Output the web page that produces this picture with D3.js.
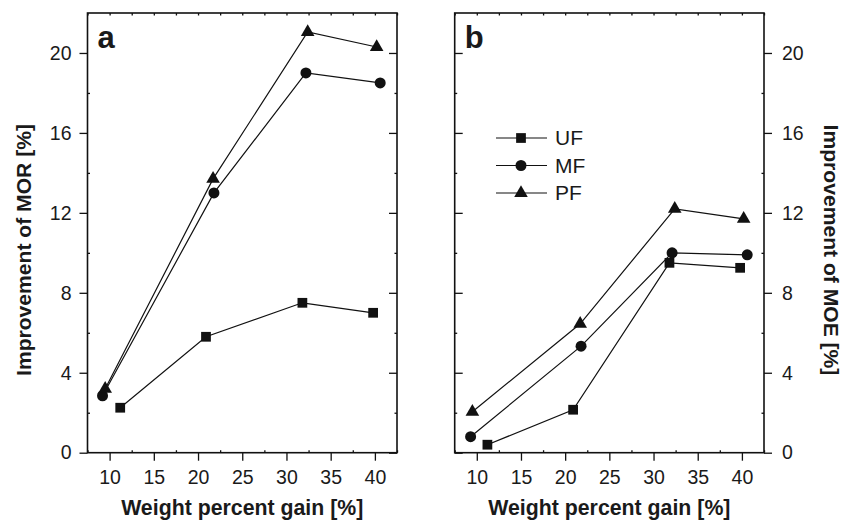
<!DOCTYPE html>
<html>
<head>
<meta charset="utf-8">
<script src="https://cdn.jsdelivr.net/npm/d3@7"></script>
<style>
  body { margin: 0; background: #fff; }
  text { font-family: "Liberation Sans", Arial, sans-serif; fill: #1a1a1a; }
</style>
</head>
<body>
<script>
// data
const seriesNames = ['UF', 'MF', 'PF'];
const morX = { UF: [11.2, 20.9, 31.8, 39.8], MF: [9.2, 21.8, 32.2, 40.6], PF: [9.5, 21.7, 32.4, 40.2] };
const morY = { UF: [2.25, 5.8, 7.5, 7.0], MF: [2.85, 13.0, 19.0, 18.5], PF: [3.2, 13.7, 21.05, 20.3] };
const moeX = { UF: [11.2, 20.9, 31.8, 39.8], MF: [9.3, 21.8, 32.1, 40.6], PF: [9.5, 21.7, 32.4, 40.2] };
const moeY = { UF: [0.4, 2.15, 9.5, 9.25], MF: [0.8, 5.33, 10.0, 9.9], PF: [2.05, 6.45, 12.2, 11.7] };
const xTicks = [10, 15, 20, 25, 30, 35, 40];
const yTicks = [0, 4, 8, 12, 16, 20];

const width = 851, height = 521;
const svg = d3.select('body').append('svg').attr('width', width).attr('height', height);

const plotTop = 13, plotBottom = 452.7;
const y = d3.scaleLinear().domain([0, 22]).range([plotBottom, plotTop]);

function symbolFor(s) {
  return s === 'UF' ? d3.symbol(d3.symbolSquare, 95)
    : s === 'MF' ? d3.symbol(d3.symbolCircle, 95)
    : d3.symbol(d3.symbolTriangle, 80);
}

function panel(left, right, xs, ys, label, yTitle, side) {
  const x = d3.scaleLinear().domain([7.5, 42.5]).range([left, right]);
  const g = svg.append('g');
  const minorX = d3.range(7.5, 42.6, 2.5).filter(v => !xTicks.includes(v));
  const minorY = d3.range(2, 22, 4);

  // bottom axis: major out, minor in
  g.append('g').attr('transform', `translate(0,${plotBottom})`)
    .call(d3.axisBottom(x).tickValues(xTicks).tickSize(8).tickPadding(9).tickSizeOuter(0))
    .call(a => a.selectAll('text').style('font-size', '19.5px'));
  g.append('g').attr('transform', `translate(0,${plotBottom})`)
    .call(d3.axisBottom(x).tickValues(minorX).tickSize(-2.5).tickFormat('').tickSizeOuter(0));
  // top axis: small ticks inward
  g.append('g').attr('transform', `translate(0,${plotTop})`)
    .call(d3.axisTop(x).tickValues(d3.range(7.5, 42.6, 2.5)).tickSize(-2.5).tickFormat('').tickSizeOuter(0));

  const outer = side === 'left' ? left : right;
  const inner = side === 'left' ? right : left;
  const axOut = side === 'left' ? d3.axisLeft : d3.axisRight;
  const axIn = side === 'left' ? d3.axisRight : d3.axisLeft;
  g.append('g').attr('transform', `translate(${outer},0)`)
    .call(axOut(y).tickValues(yTicks).tickSize(8).tickPadding(side === 'left' ? 8 : 10).tickSizeOuter(0))
    .call(a => a.selectAll('text').style('font-size', '19.5px'));
  g.append('g').attr('transform', `translate(${outer},0)`)
    .call(axOut(y).tickValues(minorY).tickSize(-2.5).tickFormat('').tickSizeOuter(0));
  // opposite side: major ticks point into the plot
  g.append('g').attr('transform', `translate(${inner},0)`)
    .call(axOut(y).tickValues(yTicks).tickSize(8).tickFormat('').tickSizeOuter(0));
  g.append('g').attr('transform', `translate(${inner},0)`)
    .call(axIn(y).tickValues(minorY).tickSize(-2.5).tickFormat('').tickSizeOuter(0));

  g.selectAll('.domain').remove();
  g.selectAll('.tick line').attr('stroke', '#111').attr('stroke-width', 1.3);
  g.selectAll('.tick text').attr('fill', '#1a1a1a');
  g.append('rect').attr('x', left).attr('y', plotTop).attr('width', right - left).attr('height', plotBottom - plotTop)
    .attr('fill', 'none').attr('stroke', '#111').attr('stroke-width', 1.6);

  const line = d3.line().x(d => x(d[0])).y(d => y(d[1]));
  seriesNames.forEach(s => {
    const pts = xs[s].map((v, i) => [v, ys[s][i]]);
    g.append('path').datum(pts).attr('d', line).attr('fill', 'none').attr('stroke', '#111').attr('stroke-width', 1.2);
    g.selectAll(null).data(pts).enter().append('path')
      .attr('d', symbolFor(s))
      .attr('transform', d => `translate(${x(d[0])},${y(d[1])})`)
      .attr('fill', '#111');
  });

  g.append('text').attr('x', left + 10).attr('y', 48).text(label)
    .style('font-size', '31px').style('font-weight', 'bold');
  g.append('text').attr('x', (left + right) / 2).attr('y', 515).attr('text-anchor', 'middle')
    .text('Weight percent gain [%]').style('font-size', '21.3px').style('font-weight', 'bold');
  const tx = side === 'left' ? 24 : 831;
  const rot = side === 'left' ? -90 : 90;
  g.append('text').attr('transform', `translate(${tx},250) rotate(${rot})`)
    .attr('text-anchor', 'middle').attr('dy', '0.35em')
    .text(yTitle).style('font-size', '21.1px').style('font-weight', 'bold');
}

panel(87.5, 397, morX, morY, 'a', 'Improvement of MOR [%]', 'left');
panel(454.7, 764, moeX, moeY, 'b', 'Improvement of MOE [%]', 'right');

// legend in panel b
const legend = svg.append('g');
seriesNames.forEach((s, i) => {
  const ly = 138 + i * 27.5;
  legend.append('line').attr('x1', 496).attr('x2', 547).attr('y1', ly).attr('y2', ly)
    .attr('stroke', '#111').attr('stroke-width', 1.2);
  legend.append('path').attr('d', symbolFor(s)).attr('transform', `translate(521,${ly})`).attr('fill', '#111');
  legend.append('text').attr('x', 555).attr('y', ly).attr('dy', '0.35em').text(s).style('font-size', '21px');
});
</script>
</body>
</html>
